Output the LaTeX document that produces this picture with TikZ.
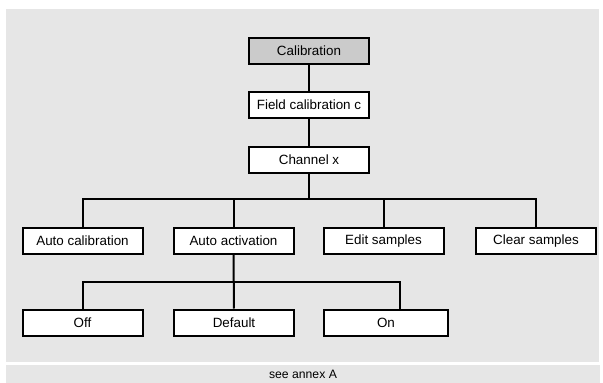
\documentclass[tikz,border=0pt]{standalone}
\usepackage{fontspec}
\setmainfont{Liberation Sans}
\definecolor{bgc}{HTML}{E6E6E6}
\definecolor{topc}{HTML}{CBCBCB}
\tikzset{
  menubox/.style={draw=black, line width=2pt, fill=white, minimum width=120pt, minimum height=26pt, inner sep=0pt, font=\fontsize{13.4}{15}\selectfont},
  conn/.style={draw=black, line width=2pt}
}
\begin{document}
\begin{tikzpicture}[x=1pt,y=-1pt]
\useasboundingbox (0,0) rectangle (603,383);
\fill[bgc] (6,9) rectangle (599,362);
\fill[bgc] (6,365) rectangle (600,383);
\node[font=\fontsize{12.2}{14}\selectfont] (annex) at (303,374) {see annex A};

\node[menubox, fill=topc] (cal) at (309,50.5) {Calibration};
\node[menubox] (field) at (309,105) {Field calibration c};
\node[menubox] (chan) at (309,159.5) {Channel x};

\node[menubox] (autocal) at (82.5,241) {Auto calibration};
\node[menubox] (actv) at (233.5,241) {Auto activation};
\node[menubox] (edit) at (383.5,241) {Edit samples};
\node[menubox] (clear) at (536,241) {Clear samples};

\node[menubox] (off) at (82.5,322.5) {Off};
\node[menubox] (default) at (234,322.5) {Default};
\node[menubox, minimum width=124pt] (on) at (386,322.5) {On};

\coordinate (b1) at (309,199);
\coordinate (b2) at (234,282);
\coordinate (onin) at ([xshift=14pt]on.north);

\draw[conn] (cal) -- (field);
\draw[conn] (field) -- (chan);
\draw[conn] (chan) -- (b1);
\draw[conn] (autocal) |- (b1) -| (clear);
\draw[conn] (actv) -- (actv |- b1);
\draw[conn] (edit) -- (edit |- b1);
\draw[conn] (actv) -- (default);
\draw[conn] (off) |- (b2) -| (onin);
\end{tikzpicture}
\end{document}
